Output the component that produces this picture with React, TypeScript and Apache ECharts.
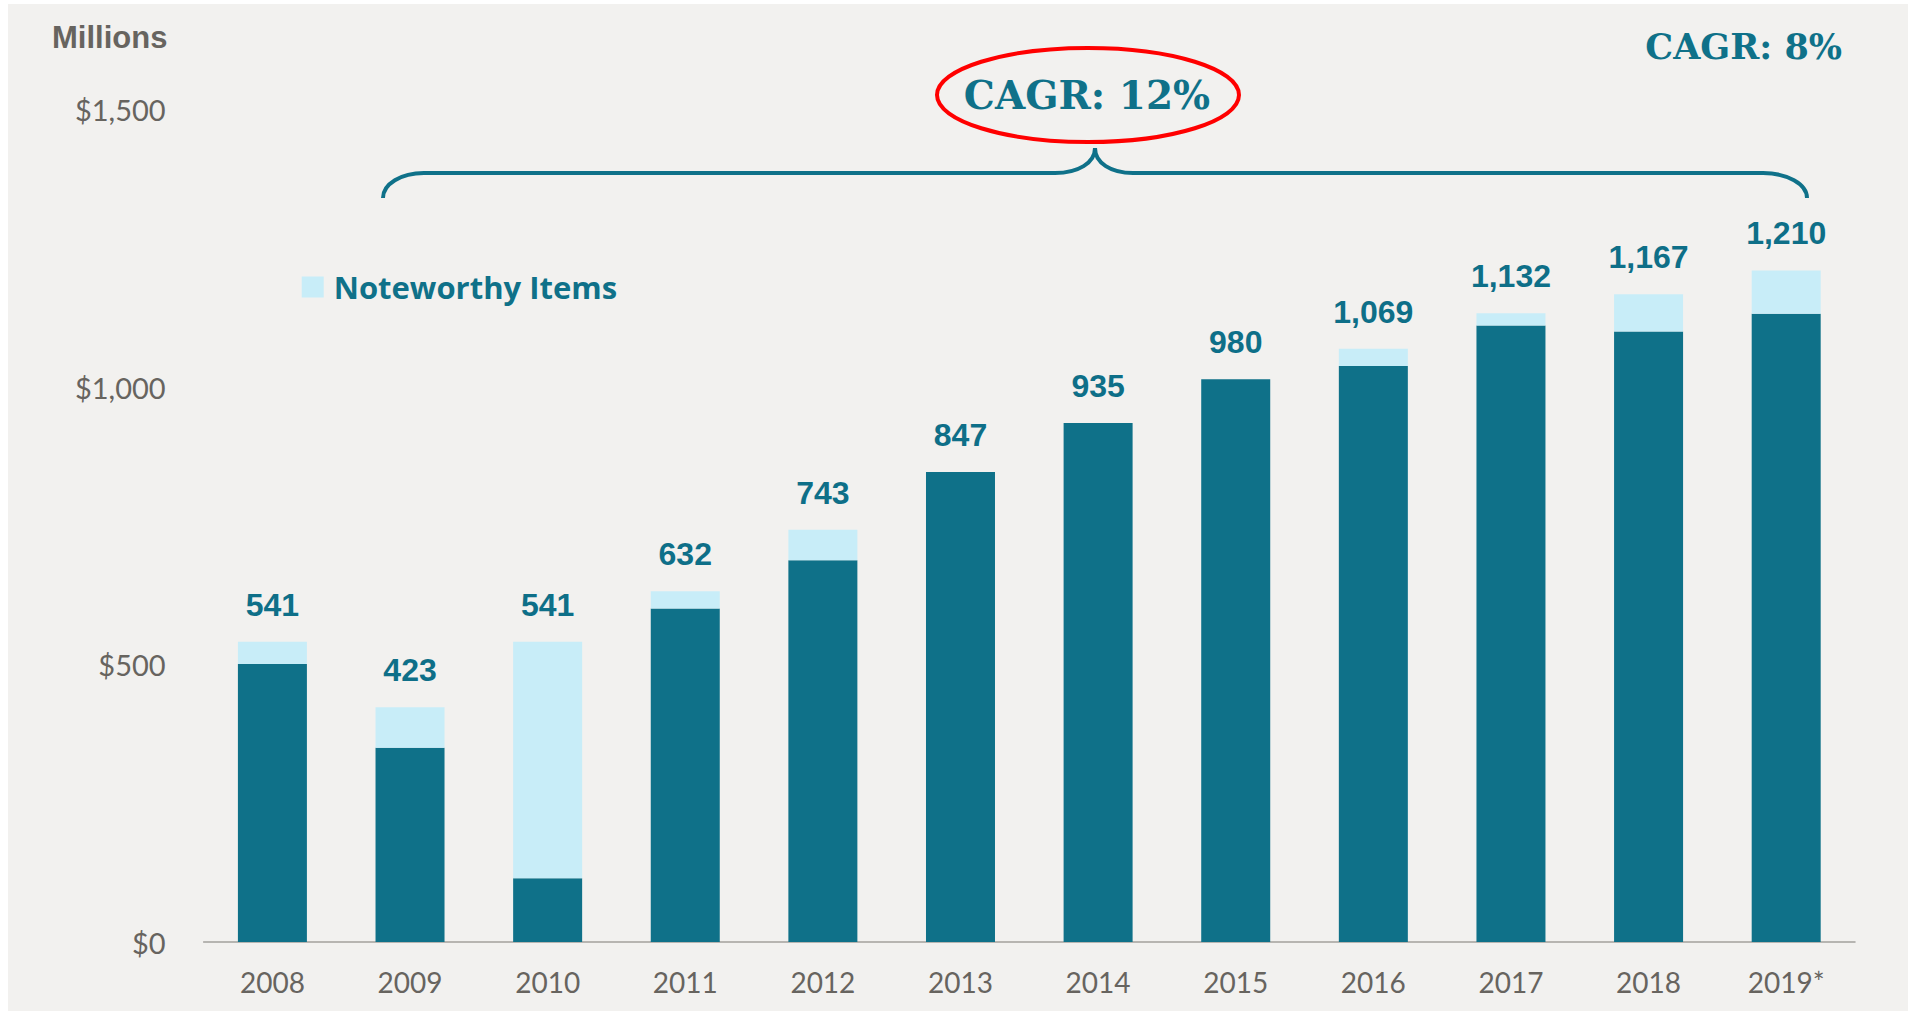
import React, { useEffect, useRef } from "react";
import * as echarts from "echarts";

const years = ["2008", "2009", "2010", "2011", "2012", "2013", "2014", "2015", "2016", "2017", "2018", "2019*"];
const baseValues = [501, 350, 115, 601, 688, 847, 935, 1014, 1038, 1111, 1100, 1132];
const noteworthyValues = [40, 73, 426, 31, 55, 0, 0, 0, 31, 22, 67, 78];
const totalLabels = ["541", "423", "541", "632", "743", "847", "935", "980", "1,069", "1,132", "1,167", "1,210"];
const yTicks = [0, 500, 1000, 1500];

const TEAL = "#0F7189";
const LIGHT = "#C8EDF8";
const GRAY = "#67645F";

export default function App() {
  const ref = useRef<HTMLDivElement>(null);
  useEffect(() => {
    if (!ref.current) return;
    const chart = echarts.init(ref.current, null, { renderer: "svg" });
    const totals = baseValues.map((v, i) => v + noteworthyValues[i]);
    const braceStyle = { stroke: TEAL, lineWidth: 4, fill: "none" };
    chart.setOption({
      animation: false,
      backgroundColor: "#F2F1EF",
      grid: { left: 195.6, top: 105.5, width: 1651.4, height: 832.5, containLabel: false },
      legend: {
        data: ["Noteworthy Items"],
        left: 293.7,
        top: 267,
        padding: 0,
        icon: "rect",
        itemWidth: 22,
        itemHeight: 21,
        textStyle: {
          fontFamily: "Open Sans",
          fontWeight: "bold",
          fontSize: 31,
          lineHeight: 32,
          color: TEAL,
          padding: [0, 0, 0, 5],
        },
      },
      xAxis: {
        type: "category",
        data: years,
        axisLine: { show: true, lineStyle: { color: "#A3A19D", width: 1.5 } },
        axisTick: { show: false },
        axisLabel: { fontFamily: "Lato", fontSize: 28, color: GRAY, margin: 26 },
      },
      yAxis: {
        type: "value",
        min: yTicks[0],
        max: yTicks[yTicks.length - 1],
        interval: 500,
        splitLine: { show: false },
        axisLine: { show: false },
        axisTick: { show: false },
        axisLabel: {
          fontFamily: "Lato",
          fontSize: 29,
          color: GRAY,
          margin: 38,
          formatter: (v: number) => "$" + v.toLocaleString("en-US"),
        },
      },
      series: [
        {
          name: "Base",
          type: "bar",
          stack: "total",
          data: baseValues,
          barWidth: 69,
          itemStyle: { color: TEAL },
        },
        {
          name: "Noteworthy Items",
          type: "bar",
          stack: "total",
          data: noteworthyValues,
          barWidth: 69,
          itemStyle: { color: LIGHT },
        },
        {
          name: "Totals",
          type: "scatter",
          data: totals,
          symbolSize: 0,
          itemStyle: { color: "#0E6F88", opacity: 1 },
          label: {
            show: true,
            position: "top",
            distance: 21,
            formatter: (p: any) => totalLabels[p.dataIndex],
            fontFamily: "Liberation Sans",
            fontWeight: "bold",
            fontSize: 32,
            lineHeight: 32,
            color: "#0E6F88",
            opacity: 1,
          },
        },
      ],
      graphic: [
        {
          type: "text",
          left: 44,
          top: 18,
          style: { text: "Millions", fontFamily: "Liberation Sans", fontWeight: "bold", fontSize: 31, fill: GRAY },
        },
        {
          type: "ellipse",
          shape: { cx: 1080, cy: 91, rx: 151, ry: 47 },
          style: { stroke: "#FF0000", lineWidth: 4, fill: "none" },
        },
        {
          type: "text",
          x: 1079,
          y: 91,
          style: {
            text: "CAGR: 12%",
            fontFamily: "DejaVu Serif",
            fontWeight: "bold",
            fontSize: 39,
            fill: TEAL,
            align: "center",
            verticalAlign: "middle",
          },
        },
        {
          type: "text",
          x: 1834,
          y: 42.5,
          style: {
            text: "CAGR: 8%",
            fontFamily: "DejaVu Serif",
            fontWeight: "bold",
            fontSize: 35,
            fill: TEAL,
            align: "right",
            verticalAlign: "middle",
          },
        },
        {
          type: "bezierCurve",
          shape: { x1: 375, y1: 194, cpx1: 375, cpy1: 180, cpx2: 393, cpy2: 169, x2: 416, y2: 169 },
          style: braceStyle,
        },
        { type: "line", shape: { x1: 416, y1: 169, x2: 1047, y2: 169 }, style: braceStyle },
        {
          type: "bezierCurve",
          shape: { x1: 1047, y1: 169, cpx1: 1070, cpy1: 169, cpx2: 1087, cpy2: 159, x2: 1087, y2: 144 },
          style: braceStyle,
        },
        {
          type: "bezierCurve",
          shape: { x1: 1087, y1: 144, cpx1: 1087, cpy1: 159, cpx2: 1103, cpy2: 169, x2: 1125, y2: 169 },
          style: braceStyle,
        },
        { type: "line", shape: { x1: 1125, y1: 169, x2: 1755, y2: 169 }, style: braceStyle },
        {
          type: "bezierCurve",
          shape: { x1: 1755, y1: 169, cpx1: 1779, cpy1: 169, cpx2: 1799, cpy2: 180, x2: 1799, y2: 194 },
          style: braceStyle,
        },
      ],
    });
    return () => chart.dispose();
  }, []);
  return (
    <div style={{ position: "absolute", left: 0, top: 0, width: 1908, height: 1011, background: "#FFFFFF" }}>
      <div ref={ref} style={{ position: "absolute", left: 8, top: 4, width: 1900, height: 1007 }} />
    </div>
  );
}
